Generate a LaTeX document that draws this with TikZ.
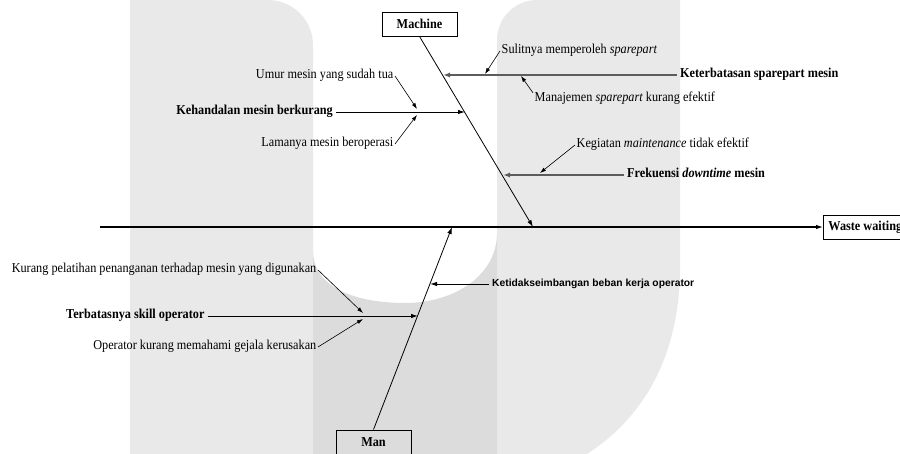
\documentclass[tikz,border=0pt]{standalone}
\usepackage{fontspec}
\setmainfont{Liberation Serif}[FakeStretch=0.9]
\newfontfamily\arialfont{Liberation Sans}
\usetikzlibrary{arrows,arrows.meta,positioning}
\definecolor{wmlight}{HTML}{E9E9E9}
\definecolor{wmdark}{HTML}{DCDCDC}
\definecolor{bonegray}{HTML}{5C5C5C}

\begin{document}
\begin{tikzpicture}[x=1pt,y=-1pt]
  \tikzstyle{every node}+=[inner sep=0pt]
  \tikzstyle{causetext}=[font=\fontsize{13.6}{15}\selectfont, text height=9pt, text depth=3pt, inner xsep=1.5pt]
  \tikzstyle{bonetext}=[causetext, font=\fontsize{13.6}{15}\selectfont\bfseries, inner xsep=3pt]
  \tikzstyle{catbox}=[draw, line width=0.9pt, minimum height=24pt, inner xsep=5pt, font=\fontsize{13.6}{15}\selectfont\bfseries]
  \tikzstyle{spine}=[line width=0.8pt, -{Latex[length=7pt,width=4.5pt]}]
  \tikzstyle{bone}=[line width=0.9pt, -{Latex[length=7pt,width=4.5pt]}]
  \tikzstyle{graybone}=[line width=1.6pt, bonegray, -{Latex[length=7pt,width=5pt]}]
  \tikzstyle{subarrow}=[line width=0.6pt, -{Latex[length=6pt,width=4pt]}]
  \useasboundingbox (0,0) rectangle (900,454);
  \clip (0,0) rectangle (900,454);

  % watermark in the back
  \fill[wmlight] (130,0) -- (268,0) arc[start angle=-90,end angle=0,radius=45] -- (313,454) -- (130,454) -- cycle;
  \fill[wmlight] (680,0) -- (537,0) arc[start angle=-90,end angle=-180,radius=40] -- (497,454) -- (587,454)
        .. controls (640,420) and (680,360) .. (680,267) -- cycle;
  \fill[wmdark] (313,250) .. controls (313,290) and (360,303) .. (405,303)
        .. controls (455,303) and (497,275) .. (497,233) -- (497,454) -- (313,454) -- cycle;

  % head and categories
  \node[catbox, anchor=west] (waste) at (823,227) {Waste waiting};
  \node[catbox, minimum width=75pt] (machine) at (419.5,24) {Machine};
  \node[catbox, minimum width=75pt] (man) at (373.5,442) {Man};
  \coordinate (tail) at (100,227);
  \coordinate (mhead) at (533,227);
  \coordinate (nhead) at (452,227);
  \draw[line width=1.1pt, -{Latex[length=7pt,width=4.5pt]}] (tail) -- (waste);
  \draw[spine] (machine.south) -- (mhead);
  \draw[spine] (man.north) -- (nhead);

  % machine causes
  \node[bonetext, anchor=west] (kst) at (677,75) {Keterbatasan sparepart mesin};
  \coordinate (m1) at (443,75);
  \draw[graybone] (kst) -- (m1);
  \node[causetext, anchor=west] (sul) at (500,51) {Sulitnya memperoleh \textit{sparepart}};
  \coordinate (s1) at (485,74);
  \draw[subarrow] (sul.west) -- (s1);
  \node[causetext, anchor=west] (mnj) at (533,99) {Manajemen \textit{sparepart} kurang efektif};
  \coordinate (s2) at (521,76);
  \draw[subarrow] (mnj.north west) -- (s2);

  \node[bonetext, anchor=east] (keh) at (336,112) {Kehandalan mesin berkurang};
  \coordinate (m2) at (465,112);
  \draw[bone] (keh) -- (m2);
  \node[causetext, anchor=east] (umur) at (395,76) {Umur mesin yang sudah tua};
  \coordinate (s3) at (417,109);
  \draw[subarrow] (umur.east) -- (s3);
  \node[causetext, anchor=east] (lama) at (395,144) {Lamanya mesin beroperasi};
  \coordinate (s4) at (417,115);
  \draw[subarrow] (lama.east) -- (s4);

  \node[bonetext, anchor=west] (frek) at (624,175) {Frekuensi \textit{downtime} mesin};
  \coordinate (m3) at (503,175);
  \draw[graybone] (frek) -- (m3);
  \node[causetext, anchor=west] (keg) at (575,145) {Kegiatan \textit{maintenance} tidak efektif};
  \coordinate (s5) at (540,173);
  \draw[subarrow] (keg.west) -- (s5);

  % man causes
  \node[bonetext, anchor=west] (ter) at (63,316) {Terbatasnya skill operator};
  \coordinate (n1) at (418,316);
  \draw[bone] (ter) -- (n1);
  \node[causetext, anchor=east] (kur) at (318,270) {Kurang pelatihan penanganan terhadap mesin yang digunakan};
  \coordinate (s6) at (363,313);
  \draw[subarrow] (kur.east) -- (s6);
  \node[causetext, anchor=east] (opr) at (318,347) {Operator kurang memahami gejala kerusakan};
  \coordinate (s7) at (363,319);
  \draw[subarrow] (opr.east) -- (s7);

  \node[causetext, anchor=west, font=\arialfont\fontsize{10.3}{12}\selectfont\bfseries, inner xsep=3pt] (ket) at (489,284) {Ketidakseimbangan beban kerja operator};
  \coordinate (n2) at (430,284);
  \draw[bone] (ket) -- (n2);
\end{tikzpicture}
\end{document}
